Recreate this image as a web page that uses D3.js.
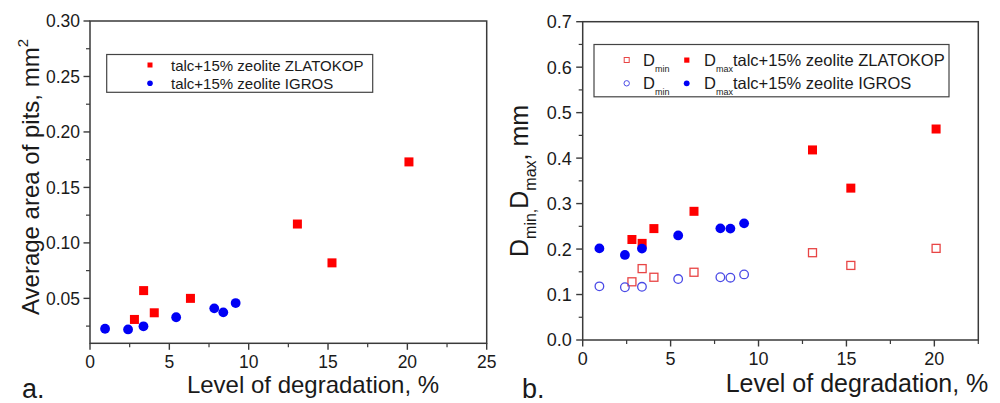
<!DOCTYPE html>
<html>
<head>
<meta charset="utf-8">
<script src="https://cdn.jsdelivr.net/npm/d3@7/dist/d3.min.js"></script>
<style>
  html, body { margin: 0; padding: 0; background: #fff; }
  svg { display: block; font-family: "Liberation Sans", Arial, sans-serif; }
  text { fill: #1a1a1a; }
</style>
</head>
<body>
<svg id="chart" width="1000" height="403"></svg>
<script>
// ---- data ----
const redX  = [2.8, 3.38, 4.05, 6.33, 13.07, 15.25, 20.1];
const blueX = [0.95, 2.4, 3.37, 5.43, 7.83, 8.4, 9.18];

// panel a: average area of pits, mm^2
const redArea  = [0.031, 0.057, 0.037, 0.050, 0.117, 0.082, 0.173];
const blueArea = [0.0226, 0.022, 0.0248, 0.033, 0.041, 0.0374, 0.0458];

// panel b: Dmin / Dmax, mm
const redDmax  = [0.221, 0.2125, 0.245, 0.283, 0.418, 0.334, 0.464];
const redDmin  = [0.128, 0.157, 0.138, 0.149, 0.192, 0.164, 0.2015];
const blueDmax = [0.2015, 0.187, 0.201, 0.230, 0.2455, 0.245, 0.2565];
const blueDmin = [0.118, 0.116, 0.117, 0.134, 0.138, 0.137, 0.1443];

const xTicksA = [0, 5, 10, 15, 20, 25];
const yTicksA = [0.05, 0.10, 0.15, 0.20, 0.25, 0.30];
const xTicksB = [0, 5, 10, 15, 20];
const yTicksB = [0.0, 0.1, 0.2, 0.3, 0.4, 0.5, 0.6, 0.7];

const seriesNameZ = "talc+15% zeolite ZLATOKOP";
const seriesNameI = "talc+15% zeolite IGROS";
const xTitle = "Level of degradation, %";

const RED = "#ff0000", BLUE = "#0000f5";
const RED_OPEN = "#e84545", BLUE_OPEN = "#4a4ae6";
const AXIS = "#3a3a3a";

const svg = d3.select("#chart");

function frame(g, x, y, xTicks, yTicks, xMinor, yMinor, xFmt, yFmt, fs, yLabGap, xLabY) {
  const [x0, x1] = x.range();
  const [y0, y1] = y.range();
  // minor ticks
  g.append("g").selectAll("line").data(xMinor).join("line")
    .attr("x1", d => x(d)).attr("x2", d => x(d))
    .attr("y1", y0).attr("y2", y0 + 4).attr("stroke", AXIS).attr("stroke-width", 1.2);
  g.append("g").selectAll("line").data(yMinor).join("line")
    .attr("y1", d => y(d)).attr("y2", d => y(d))
    .attr("x1", x0).attr("x2", x0 - 4).attr("stroke", AXIS).attr("stroke-width", 1.2);
  // major ticks
  g.append("g").selectAll("line").data(xTicks).join("line")
    .attr("x1", d => x(d)).attr("x2", d => x(d))
    .attr("y1", y0).attr("y2", y0 + 6.5).attr("stroke", AXIS).attr("stroke-width", 1.4);
  g.append("g").selectAll("line").data(yTicks).join("line")
    .attr("y1", d => y(d)).attr("y2", d => y(d))
    .attr("x1", x0).attr("x2", x0 - 6.5).attr("stroke", AXIS).attr("stroke-width", 1.4);
  // frame
  g.append("rect").attr("x", x0).attr("y", y1).attr("width", x1 - x0).attr("height", y0 - y1)
    .attr("fill", "none").attr("stroke", AXIS).attr("stroke-width", 1.5);
  // labels
  g.append("g").selectAll("text").data(xTicks).join("text")
    .attr("x", d => x(d)).attr("y", xLabY).attr("text-anchor", "middle")
    .attr("font-size", fs).text(xFmt);
  g.append("g").selectAll("text").data(yTicks).join("text")
    .attr("x", x0 - yLabGap).attr("y", d => y(d)).attr("dy", "0.36em").attr("text-anchor", "end")
    .attr("font-size", fs).text(yFmt);
}

function squares(g, xs, ys, x, y, size, fill, stroke) {
  g.append("g").selectAll("rect").data(xs.map((d, i) => [d, ys[i]])).join("rect")
    .attr("x", d => x(d[0]) - size / 2).attr("y", d => y(d[1]) - size / 2)
    .attr("width", size).attr("height", size)
    .attr("fill", fill).attr("stroke", stroke || "none").attr("stroke-width", stroke ? 1.3 : 0);
}
function circles(g, xs, ys, x, y, r, fill, stroke) {
  g.append("g").selectAll("circle").data(xs.map((d, i) => [d, ys[i]])).join("circle")
    .attr("cx", d => x(d[0])).attr("cy", d => y(d[1])).attr("r", r)
    .attr("fill", fill).attr("stroke", stroke || "none").attr("stroke-width", stroke ? 1.3 : 0);
}

// ================= panel a =================
{
  const g = svg.append("g");
  const x = d3.scaleLinear().domain([0, 25]).range([90, 486.7]);
  const y = d3.scaleLinear().domain([0.0095, 0.30]).range([343.3, 21]);
  frame(g, x, y, xTicksA, yTicksA,
    d3.range(2.5, 25, 5), [0.025, 0.075, 0.125, 0.175, 0.225, 0.275],
    d => d3.format("d")(d), d => d3.format(".2f")(d), 17.5, 10, 368);

  squares(g, redX, redArea, x, y, 9, RED);
  circles(g, blueX, blueArea, x, y, 4.9, BLUE);

  // legend
  g.append("rect").attr("x", 106.7).attr("y", 54.5).attr("width", 266).attr("height", 37.8)
    .attr("fill", "#fff").attr("stroke", "#444").attr("stroke-width", 1.2);
  g.append("rect").attr("x", 147.5).attr("y", 62.5).attr("width", 5).attr("height", 5).attr("fill", RED);
  g.append("circle").attr("cx", 150).attr("cy", 83.3).attr("r", 2.8).attr("fill", BLUE);
  g.append("text").attr("x", 171).attr("y", 71).attr("font-size", 15).text(seriesNameZ);
  g.append("text").attr("x", 171).attr("y", 89.3).attr("font-size", 15).text(seriesNameI);

  // axis titles
  g.append("text").attr("x", 313).attr("y", 393).attr("text-anchor", "middle")
    .attr("font-size", 24).text(xTitle);
  const yt = g.append("text").attr("transform", "translate(39,315) rotate(-90)")
    .attr("font-size", 24);
  yt.append("tspan").text("Average area of pits, mm");
  yt.append("tspan").attr("font-size", 15).attr("dy", -11).text("2");

  g.append("text").attr("x", 22).attr("y", 398).attr("font-size", 27).text("a.");
}

// ================= panel b =================
{
  const g = svg.append("g");
  const x = d3.scaleLinear().domain([0, 22.5]).range([582.7, 978.3]);
  const y = d3.scaleLinear().domain([0, 0.7]).range([340, 21.7]);
  frame(g, x, y, xTicksB, yTicksB,
    [2.5, 7.5, 12.5, 17.5, 22.5], d3.range(0.05, 0.7, 0.1),
    d => d3.format("d")(d), d => d3.format(".1f")(d), 18, 11, 365);

  squares(g, redX, redDmin, x, y, 8, "none", RED_OPEN);
  circles(g, blueX, blueDmin, x, y, 4.3, "none", BLUE_OPEN);
  squares(g, redX, redDmax, x, y, 9, RED);
  circles(g, blueX, blueDmax, x, y, 4.9, BLUE);

  // legend
  g.append("rect").attr("x", 594).attr("y", 44.5).attr("width", 355).attr("height", 52.3)
    .attr("fill", "#fff").attr("stroke", "#444").attr("stroke-width", 1.2);
  g.append("rect").attr("x", 624.2).attr("y", 57.5).attr("width", 5).attr("height", 5)
    .attr("fill", "none").attr("stroke", RED_OPEN).attr("stroke-width", 1);
  g.append("rect").attr("x", 684.2).attr("y", 57.5).attr("width", 5.2).attr("height", 5.2).attr("fill", RED);
  g.append("circle").attr("cx", 626.7).attr("cy", 83.3).attr("r", 2.7)
    .attr("fill", "none").attr("stroke", BLUE_OPEN).attr("stroke-width", 1);
  g.append("circle").attr("cx", 686.7).attr("cy", 83.3).attr("r", 2.9).attr("fill", BLUE);

  function legRow(yb, name) {
    const t1 = g.append("text").attr("x", 643).attr("y", yb).attr("font-size", 16.5);
    t1.append("tspan").text("D");
    t1.append("tspan").attr("font-size", 9).attr("dy", 6).text("min");
    const t2 = g.append("text").attr("x", 704).attr("y", yb).attr("font-size", 16.5);
    t2.append("tspan").text("D");
    t2.append("tspan").attr("font-size", 9).attr("dy", 6).text("max");
    t2.append("tspan").attr("dy", -6).text(name);
  }
  legRow(65.5, seriesNameZ);
  legRow(89, seriesNameI);

  // axis titles
  g.append("text").attr("x", 857).attr("y", 392).attr("text-anchor", "middle")
    .attr("font-size", 25).text(xTitle);
  const yt = g.append("text").attr("transform", "translate(528,257) rotate(-90)")
    .attr("font-size", 25);
  yt.append("tspan").text("D");
  yt.append("tspan").attr("font-size", 16).attr("dy", 8).text("min,");
  yt.append("tspan").attr("dy", -8).text("D");
  yt.append("tspan").attr("font-size", 16).attr("dy", 8).text("max");
  yt.append("tspan").attr("dy", -8).text(", mm");

  g.append("text").attr("x", 522).attr("y", 398).attr("font-size", 27).text("b.");
}
</script>
</body>
</html>
